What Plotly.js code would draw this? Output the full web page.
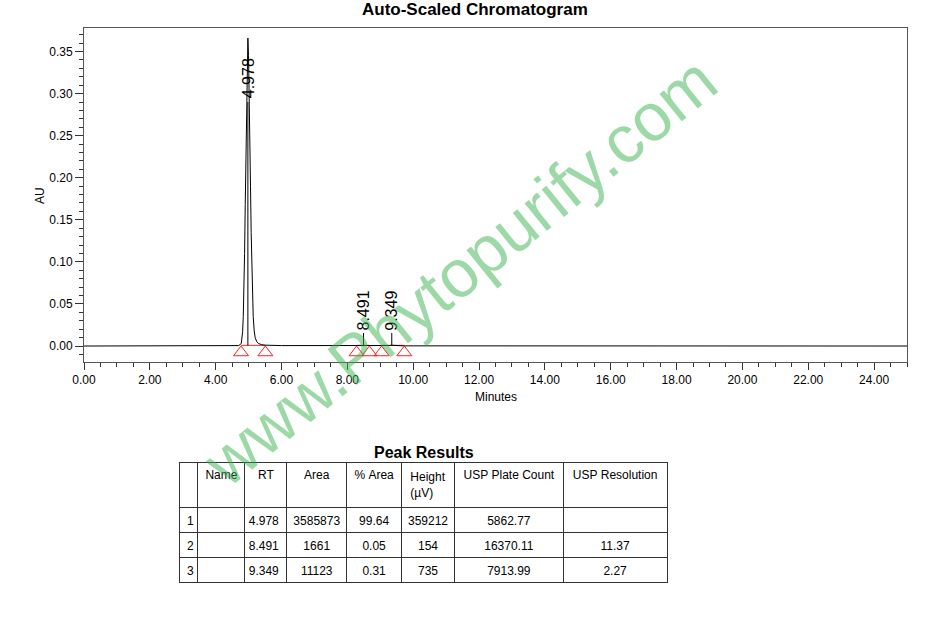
<!DOCTYPE html>
<html>
<head>
<meta charset="utf-8">
<script src="https://cdn.plot.ly/plotly-3.0.1.min.js"></script>
<style>html,body{margin:0;padding:0;background:#fff;}#chart{width:927px;height:622px;}</style>
</head>
<body>
<div id="chart"></div>
<script>
// ---- Chromatogram trace ----
var timeMin = [0, 1, 2, 3, 4, 4.5, 4.7, 4.778, 4.818, 4.838, 4.858, 4.878, 4.898, 4.918, 4.938, 4.958, 4.978,
  4.998, 5.018, 5.038, 5.058, 5.078, 5.098, 5.118, 5.14, 5.17, 5.2, 5.25, 5.3, 5.4, 5.5, 6, 7, 8,
  8.3, 8.4, 8.45, 8.491, 8.53, 8.6, 8.7, 9.0, 9.2, 9.28, 9.349, 9.42, 9.5, 9.7, 10, 12, 15, 20, 25];
var signalAU = [0.0000, 0.0000, 0.0000, 0.0000, 0.0001, 0.0002, 0.0005, 0.003, 0.017, 0.035, 0.065, 0.110, 0.168, 0.234, 0.297, 0.343, 0.366,
  0.345, 0.305, 0.250, 0.190, 0.135, 0.090, 0.058, 0.035, 0.018, 0.010, 0.005, 0.003, 0.0015, 0.001, 0.0005, 0.0003, 0.0002,
  0.0002, 0.0002, 0.0003, 0.0004, 0.0003, 0.0002, 0.0002, 0.0002, 0.0003, 0.0006, 0.0009, 0.0006, 0.0003, 0.0002, 0.0002, 0.0001, 0.0001, 0.0000, 0.0000];

// ---- Peaks ----
var peakRT = [4.978, 8.491, 9.349];
var peakLabels = ["4.978", "8.491", "9.349"];
var peakStart = [4.77, 8.28, 9.04];
var peakEnd = [5.51, 8.67, 9.73];

// ---- X / Y ticks ----
var xTickVals = [0, 2, 4, 6, 8, 10, 12, 14, 16, 18, 20, 22, 24];
var xTickText = ["0.00", "2.00", "4.00", "6.00", "8.00", "10.00", "12.00", "14.00", "16.00", "18.00", "20.00", "22.00", "24.00"];
var yTickVals = [0, 0.05, 0.10, 0.15, 0.20, 0.25, 0.30, 0.35];
var yTickText = ["0.00", "0.05", "0.10", "0.15", "0.20", "0.25", "0.30", "0.35"];

// ---- Peak Results table ----
var colHeaders = ["", "Name", "RT", "Area", "%\u00a0Area", "Height<br>(µV)", "USP\u00a0Plate\u00a0Count", "USP\u00a0Resolution"];
var rowIndex = ["1", "2", "3"];
var peakNames = ["", "", ""];
var tableRT = ["4.978", "8.491", "9.349"];
var tableArea = ["3585873", "1661", "11123"];
var tablePctArea = ["99.64", "0.05", "0.31"];
var tableHeight = ["359212", "154", "735"];
var tablePlateCount = ["5862.77", "16370.11", "7913.99"];
var tableResolution = ["", "11.37", "2.27"];

var W = 927, H = 622;
function px(x) { return x / W; }
function py(y) { return 1 - y / H; }

var FONT = "Liberation Sans, Arial, sans-serif";

var traces = [];

// red baselines of integration
for (var i = 0; i < peakRT.length; i++) {
  traces.push({
    type: "scatter", mode: "lines", x: [peakStart[i], peakEnd[i]], y: [0.0008, 0.0008],
    line: {color: "#ff2020", width: 1}, hoverinfo: "skip", showlegend: false, xaxis: "x", yaxis: "y"
  });
}
// main trace
traces.push({
  type: "scatter", mode: "lines", x: timeMin, y: signalAU,
  line: {color: "#000000", width: 1}, showlegend: false, xaxis: "x", yaxis: "y"
});
// drop lines at peak apex
var dropX = [], dropY = [];
for (var i = 0; i < peakRT.length; i++) {
  dropX.push(peakRT[i], peakRT[i], null);
  dropY.push(0.0005, i === 0 ? 0.29 : 0.0155, null);
}
traces.push({
  type: "scatter", mode: "lines", x: dropX, y: dropY,
  line: {color: "#000000", width: 1}, hoverinfo: "skip", showlegend: false
});
// integration markers
var markX = [], markY = [];
for (var i = 0; i < peakRT.length; i++) {
  markX.push(peakStart[i], peakEnd[i]);
  markY.push(-0.0077, -0.0077);
}
traces.push({
  type: "scatter", mode: "markers", x: markX, y: markY,
  marker: {symbol: "triangle-up-open", size: 13, color: "#ff2020", line: {width: 1, color: "#ff2020"}},
  hoverinfo: "skip", showlegend: false, cliponaxis: false
});

// table
var colW = [19, 47, 42, 60, 55, 53, 109, 104];
traces.push({
  type: "table",
  domain: {x: [px(179), px(668)], y: [py(600), py(462)]},
  columnwidth: colW,
  header: {
    values: colHeaders,
    height: 42,
    align: ["left", "center", "center", "center", "center", "center", "center", "center"],
    line: {color: "#333", width: 1},
    fill: {color: "#ffffff"},
    font: {family: FONT, size: 12, color: "#000"}
  },
  cells: {
    values: [rowIndex, peakNames, tableRT, tableArea, tablePctArea, tableHeight, tablePlateCount, tableResolution],
    height: 25,
    align: ["left", "center", "right", "center", "center", "center", "center", "center"],
    line: {color: "#333", width: 1},
    fill: {color: "#ffffff"},
    font: {family: FONT, size: 12, color: "#000"}
  }
});

var annotations = [
  {text: "<b>Auto-Scaled Chromatogram</b>", xref: "paper", yref: "paper", x: px(475), y: py(10),
   showarrow: false, font: {family: FONT, size: 17, color: "#000"}, xanchor: "center", yanchor: "middle"},
  {text: "AU", xref: "paper", yref: "paper", x: px(40), y: py(196), textangle: -90,
   showarrow: false, font: {family: FONT, size: 12, color: "#000"}, xanchor: "center", yanchor: "middle"},
  {text: "Minutes", xref: "paper", yref: "paper", x: px(496), y: py(397),
   showarrow: false, font: {family: FONT, size: 12, color: "#000"}, xanchor: "center", yanchor: "middle"},
  {text: "<b>Peak Results</b>", xref: "paper", yref: "paper", x: px(424), y: py(452),
   showarrow: false, font: {family: FONT, size: 16, color: "#000"}, xanchor: "center", yanchor: "middle"}
];
for (var i = 0; i < peakRT.length; i++) {
  annotations.push({
    text: peakLabels[i], xref: "x", yref: "y", x: peakRT[i], y: i === 0 ? 0.292 : 0.0155,
    textangle: -90, showarrow: false, xanchor: "center", yanchor: "bottom",
    font: {family: FONT, size: 16, color: "#000"}
  });
}
annotations.push({
  text: "www.Phytopurify.com", xref: "paper", yref: "paper", x: px(459), y: py(271),
  textangle: -39, showarrow: false, xanchor: "center", yanchor: "middle",
  font: {family: FONT, size: 67, color: "rgba(60,180,80,0.5)"}
});

var layout = {
  width: W, height: H,
  margin: {l: 0, r: 0, t: 0, b: 0},
  paper_bgcolor: "#ffffff", plot_bgcolor: "#ffffff",
  showlegend: false,
  font: {family: FONT, size: 12, color: "#000"},
  xaxis: {
    domain: [px(84), px(907)], range: [0, 25],
    tickvals: xTickVals, ticktext: xTickText,
    ticks: "outside", ticklen: 7, tickcolor: "#333", tickwidth: 1,
    minor: {dtick: 0.5, tick0: 0, ticks: "outside", ticklen: 4, tickcolor: "#333"},
    showline: true, mirror: true, linecolor: "#555", linewidth: 1,
    showgrid: false, zeroline: false, anchor: "y",
    tickfont: {family: FONT, size: 12, color: "#000"}
  },
  yaxis: {
    domain: [py(362), py(28)], range: [-0.019, 0.378],
    tickvals: yTickVals, ticktext: yTickText,
    ticks: "outside", ticklen: 8, tickcolor: "#333", tickwidth: 1,
    minor: {dtick: 0.01, tick0: 0, ticks: "outside", ticklen: 4, tickcolor: "#333"},
    showline: true, mirror: true, linecolor: "#555", linewidth: 1,
    showgrid: false, zeroline: false, anchor: "x",
    tickfont: {family: FONT, size: 12, color: "#000"}
  },
  annotations: annotations
};

Plotly.newPlot("chart", traces, layout, {displayModeBar: false, staticPlot: true});
</script>
</body>
</html>
